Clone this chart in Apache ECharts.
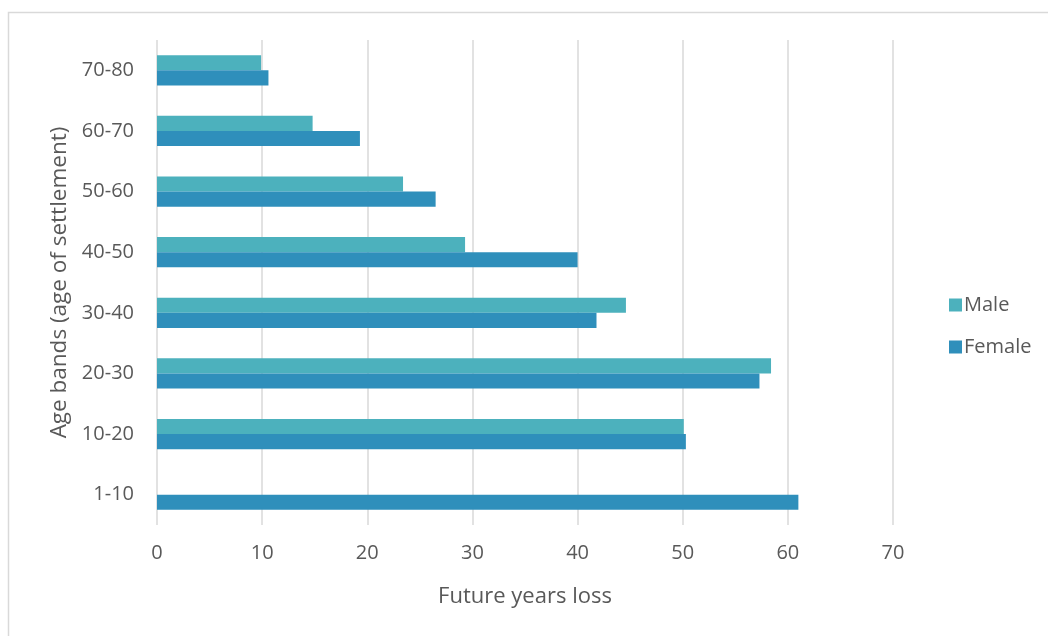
<!DOCTYPE html>
<html>
<head>
<meta charset="utf-8">
<title>Future years loss by age band</title>
<script src="https://cdn.jsdelivr.net/npm/echarts@6/dist/echarts.min.js"></script>
<style>
  html, body { margin: 0; padding: 0; background: #ffffff; }
  #chart { width: 1048px; height: 636px; }
</style>
</head>
<body>
<div id="chart"></div>
<script>
// Age bands, bottom to top on the category axis
const ageBands = ['1-10', '10-20', '20-30', '30-40', '40-50', '50-60', '60-70', '70-80'];
// Future years loss per age band
const maleLoss = [0, 50.1, 58.4, 44.6, 29.3, 23.4, 14.8, 9.9];
const femaleLoss = [61.0, 50.3, 57.3, 41.8, 40.0, 26.5, 19.3, 10.6];
const xTicks = [0, 10, 20, 30, 40, 50, 60, 70];

const textColor = '#595959';
const fontFamily = '"Open Sans", "Noto Sans", sans-serif';

const chart = echarts.init(document.getElementById('chart'), null, { renderer: 'canvas' });

chart.setOption({
  backgroundColor: '#ffffff',
  animation: false,
  textStyle: { fontFamily: fontFamily, color: textColor },
  graphic: [{
    type: 'rect',
    shape: { x: 8.5, y: 12.5, width: 1100, height: 700 },
    style: { fill: 'none', stroke: '#d9d9d9', lineWidth: 1.5 },
    silent: true,
    z: -10
  }],
  grid: { left: 157, right: 155, top: 40, bottom: 111, containLabel: false },
  legend: {
    orient: 'vertical',
    left: 944,
    top: 290,
    itemWidth: 13,
    itemHeight: 13,
    itemGap: 22,
    icon: 'rect',
    data: ['Male', 'Female'],
    textStyle: { fontFamily: fontFamily, fontSize: 20, color: textColor, padding: [0, 0, 0, -3] }
  },
  xAxis: {
    type: 'value',
    min: xTicks[0],
    max: xTicks[xTicks.length - 1],
    interval: 10,
    name: 'Future years loss',
    nameLocation: 'middle',
    nameGap: 61,
    nameTextStyle: { fontFamily: fontFamily, fontSize: 22, color: textColor },
    axisLine: { show: false },
    axisTick: { show: false },
    axisLabel: { fontFamily: fontFamily, fontSize: 20, color: textColor, margin: 18 },
    splitLine: { show: true, lineStyle: { color: '#d9d9d9', width: 1.5 } }
  },
  yAxis: {
    type: 'category',
    data: ageBands,
    name: 'Age bands (age of settlement)',
    nameLocation: 'middle',
    nameGap: 83,
    nameRotate: 90,
    nameTextStyle: { fontFamily: fontFamily, fontSize: 22.5, color: textColor },
    axisLine: { show: false },
    axisTick: { show: false },
    axisLabel: { fontFamily: fontFamily, fontSize: 20, color: textColor, margin: 23 },
    splitLine: { show: false }
  },
  series: [
    {
      name: 'Male',
      type: 'bar',
      data: maleLoss,
      barGap: '0%',
      barCategoryGap: '50%',
      itemStyle: { color: '#4cb1bd' }
    },
    {
      name: 'Female',
      type: 'bar',
      data: femaleLoss,
      barGap: '0%',
      barCategoryGap: '50%',
      itemStyle: { color: '#2f8fbb' }
    }
  ]
});
</script>
</body>
</html>
